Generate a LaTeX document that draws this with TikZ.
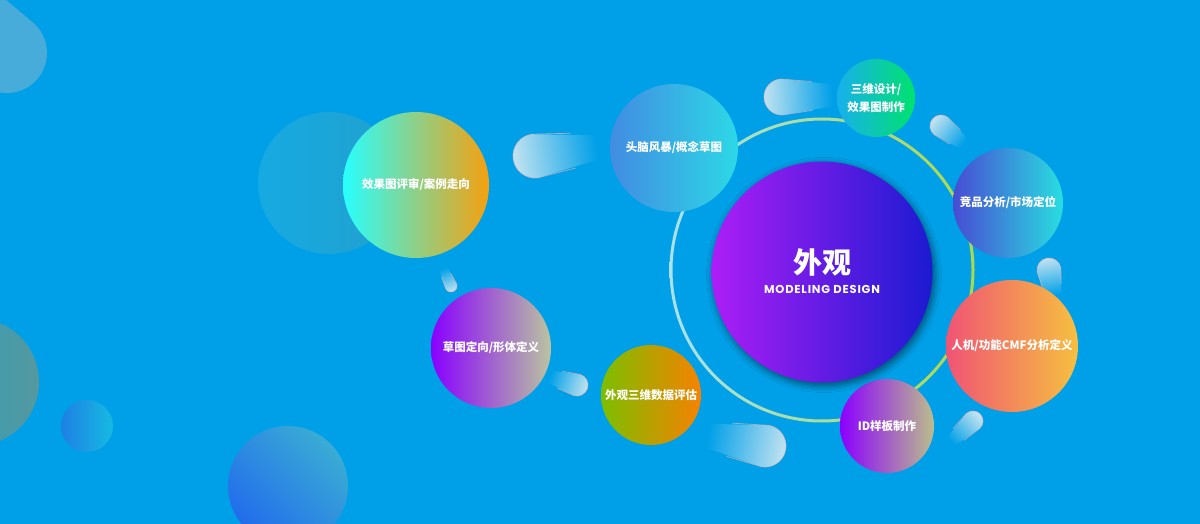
\documentclass[tikz,border=0pt]{standalone}
\usepackage{fontspec}
\newfontfamily\cjk{Noto Sans CJK SC}
\newfontfamily\techfont{Poppins}[LetterSpace=7]
\usetikzlibrary{shadows.blur}

\definecolor{bg}{RGB}{0,160,232}
\definecolor{comethead}{RGB}{192,226,240}
\definecolor{cometrim}{RGB}{238,178,178}
\definecolor{ringl}{RGB}{170,225,235}
\definecolor{ringr}{RGB}{175,215,70}

% comet: head x, head y, radius, direction (image degrees), length, tail half width
\newcommand{\comet}[6]{%
  \begin{scope}[shift={(#1,#2)}, rotate={-(#4)}]
    \pgfmathsetmacro\cometshade{90-(#4)}
    \shade[top color=comethead, bottom color=bg, shading angle=\cometshade]
      (#5,-#6) -- (0,-#3) arc[start angle=-90, end angle=-270, radius=#3] -- (#5,#6) -- cycle;
    \draw[cometrim, line width=0.7pt, opacity=0.7]
      (0.6*#5,-0.8*#3) -- (0,-#3) arc[start angle=-90, end angle=-270, radius=#3] -- (0.6*#5,0.8*#3);
  \end{scope}}

\tikzset{
  bubble/.style={circle, inner sep=0pt, text=white, align=center,
    font=\cjk\bfseries\fontsize{11.5}{18}\selectfont},
}

\begin{document}
\begin{tikzpicture}[x=1pt,y=-1pt]
\useasboundingbox (0,0) rectangle (1200,524);
\clip (0,0) rectangle (1200,524);
\fill[bg] (0,0) rectangle (1200,524);

% background decoration
\draw[line width=80pt, line cap=round, color={rgb,255:red,72;green,172;blue,218}] (7,53) -- (-70,-12);
\shade[left color={rgb,255:red,35;green,162;blue,192}, right color={rgb,255:red,85;green,152;blue,160}] (-25,382) circle (64);
\shade[left color={rgb,255:red,30;green,128;blue,228}, right color={rgb,255:red,22;green,186;blue,226}] (87,426) circle (26);
\shade[top color={rgb,255:red,58;green,172;blue,212}, bottom color={rgb,255:red,34;green,108;blue,236}, shading angle=-45] (288,486) circle (60);
\shade[left color={rgb,255:red,22;green,170;blue,226}, right color={rgb,255:red,34;green,160;blue,205}] (329,183) circle (71);

% ring round the core
\coordinate (hub) at (822,270);
\shade[left color=ringl, right color=ringr, even odd rule] (hub) circle[radius=152.5] (hub) circle[radius=149.5];

% comets
\comet{535}{156}{22}{-8}{64}{12}
\comet{782}{97}{18}{-2}{50}{11}
\comet{941}{126}{11}{38}{30}{6}
\comet{1049}{270}{12}{80}{26}{8}
\comet{973}{421}{10}{137}{33}{5}
\comet{765}{446}{21}{190}{60}{12}
\comet{577}{385}{11}{197}{30}{6}
\comet{451}{286}{6}{246}{20}{4}

% steps
\node[bubble, minimum size=128, left color={rgb,255:red,66;green,140;blue,226}, right color={rgb,255:red,44;green,216;blue,230}] (brain) at (674,148) {头脑风暴/概念草图};
\node[bubble, minimum size=78, left color={rgb,255:red,24;green,176;blue,236}, right color={rgb,255:red,0;green,226;blue,110}] (render) at (876,98) {三维设计/\\效果图制作};
\node[bubble, minimum size=110, left color={rgb,255:red,72;green,76;blue,212}, right color={rgb,255:red,40;green,222;blue,224}] (market) at (1008,203) {竞品分析/市场定位};
\node[bubble, minimum size=132, left color={rgb,255:red,240;green,84;blue,116}, right color={rgb,255:red,246;green,192;blue,64}] (ergo) at (1012,346) {人机/功能CMF分析定义};
\node[bubble, minimum size=94, left color={rgb,255:red,140;green,0;blue,255}, right color={rgb,255:red,186;green,190;blue,140}] (sample) at (887,426) {ID样板制作};
\node[bubble, minimum size=100, left color={rgb,255:red,124;green,190;blue,0}, right color={rgb,255:red,246;green,130;blue,0}] (data) at (651,395) {外观三维数据评估};
\node[bubble, minimum size=120, left color={rgb,255:red,136;green,0;blue,255}, right color={rgb,255:red,186;green,196;blue,160}] (sketch) at (491,348) {草图定向/形体定义};
\node[bubble, minimum size=146, left color={rgb,255:red,40;green,255;blue,255}, right color={rgb,255:red,246;green,160;blue,14}] (review) at (416,185) {效果图评审/案例走向};

% core
\node[bubble, minimum size=221, left color={rgb,255:red,172;green,30;blue,246}, right color={rgb,255:red,28;green,26;blue,210},
  blur shadow={shadow xshift=2pt, shadow yshift=-3pt, shadow blur radius=7pt, shadow opacity=55, shadow blur steps=8}] (core) at (822,272) {};
\node[text=white, font=\cjk\bfseries\fontsize{29}{30}\selectfont] (coretitle) at (822,262) {外观};
\node[text=white, font=\techfont\bfseries\fontsize{11.5}{12}\selectfont] (coresub) at (822,289) {MODELING DESIGN};
\end{tikzpicture}
\end{document}
